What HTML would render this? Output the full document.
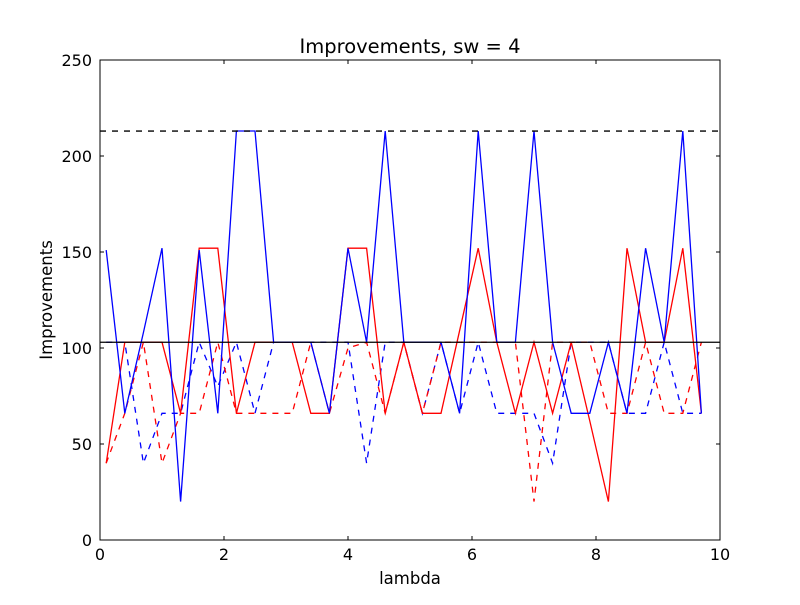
<!DOCTYPE html>
<html><head><meta charset="utf-8">
<style>
body{margin:0;background:#fff;}
svg text{font-family:"DejaVu Sans","Liberation Sans",sans-serif;}
</style></head>
<body>
<svg id="chart" width="800" height="600" xmlns="http://www.w3.org/2000/svg">
<rect width="800" height="600" fill="#fff"/>
<g id="plot"></g>
<text x="410" y="53" text-anchor="middle" font-size="19.5">Improvements, sw = 4</text>
<text x="410" y="584" text-anchor="middle" font-size="16.5">lambda</text>
<text transform="translate(52,300) rotate(-90)" text-anchor="middle" font-size="16.5">Improvements</text>
</svg>
<script>
const xTicks=[0,2,4,6,8,10];
const yTicks=[0,50,100,150,200,250];
const blueSolid=[151,66,108,152,20,151,66,213,213,103,103,103,66,152,103,213,103,103,103,66,213,103,103,213,103,66,66,103,66,152,103,213,66];
const redSolid=[40,103,103,103,66,152,152,66,103,103,103,66,66,152,152,66,103,66,66,109,152,103,66,103,66,103,62,20,152,103,103,152,66];
const blueDashed=[103,103,40,66,66,103,80,103,66,103,103,103,103,103,40,103,103,66,103,66,103,66,66,66,40,103,103,103,66,66,103,66,66];
const redDashed=[40,66,103,40,66,66,103,66,66,66,66,103,66,100,103,66,103,66,103,103,103,103,103,20,103,103,103,66,66,103,66,66,103];
const refSolid=103;
const refDashed=213;
const X0=100,X1=720,Y0=540,Y1=60;
const sx=v=>X0+(v-0)/10*(X1-X0);
const sy=v=>Y0-(v-0)/250*(Y0-Y1);
const lam=i=>0.1+0.3*i;
const NS="http://www.w3.org/2000/svg";
const g=document.getElementById('plot');
function mk(tag,attrs){const e=document.createElementNS(NS,tag);for(const k in attrs)e.setAttribute(k,attrs[k]);g.appendChild(e);return e;}
function series(arr,color,dash,name){
  const pts=arr.map((v,i)=>sx(lam(i)).toFixed(1)+','+sy(v).toFixed(1)).join(' ');
  const p=mk('polyline',{points:pts,fill:'none',stroke:color,'stroke-width':1.3});
  if(dash)p.setAttribute('stroke-dasharray','6,6');
  
  
}
series(blueDashed,'#0000ff',true,'blue-dashed-series');
series(redDashed,'#ff0000',true,'red-dashed-series');
series(redSolid,'#ff0000',false,'red-solid-series');
series(blueSolid,'#0000ff',false,'blue-solid-series');
const h1=mk('line',{x1:X0,x2:X1,y1:sy(refSolid),y2:sy(refSolid),stroke:'#000','stroke-width':1.3});


const h2=mk('line',{x1:X0,x2:X1,y1:sy(refDashed),y2:sy(refDashed),stroke:'#000','stroke-width':1.3,'stroke-dasharray':'6,6'});


const fr=mk('rect',{x:X0,y:Y1,width:X1-X0,height:Y0-Y1,fill:'none',stroke:'#000','stroke-width':1});


xTicks.forEach(t=>{
  const x=sx(t);
  mk('line',{x1:x,x2:x,y1:Y0,y2:Y0-4,stroke:'#000'});
  mk('line',{x1:x,x2:x,y1:Y1,y2:Y1+4,stroke:'#000'});
  const tx=mk('text',{x:x,y:Y0+20,'text-anchor':'middle','font-size':16});
  tx.textContent=t;
  
  
});
yTicks.forEach(t=>{
  const y=sy(t);
  mk('line',{x1:X0,x2:X0+4,y1:y,y2:y,stroke:'#000'});
  mk('line',{x1:X1,x2:X1-4,y1:y,y2:y,stroke:'#000'});
  const tx=mk('text',{x:X0-8,y:y+6,'text-anchor':'end','font-size':16});
  tx.textContent=t;
  
  
});
</script>
</body></html>
